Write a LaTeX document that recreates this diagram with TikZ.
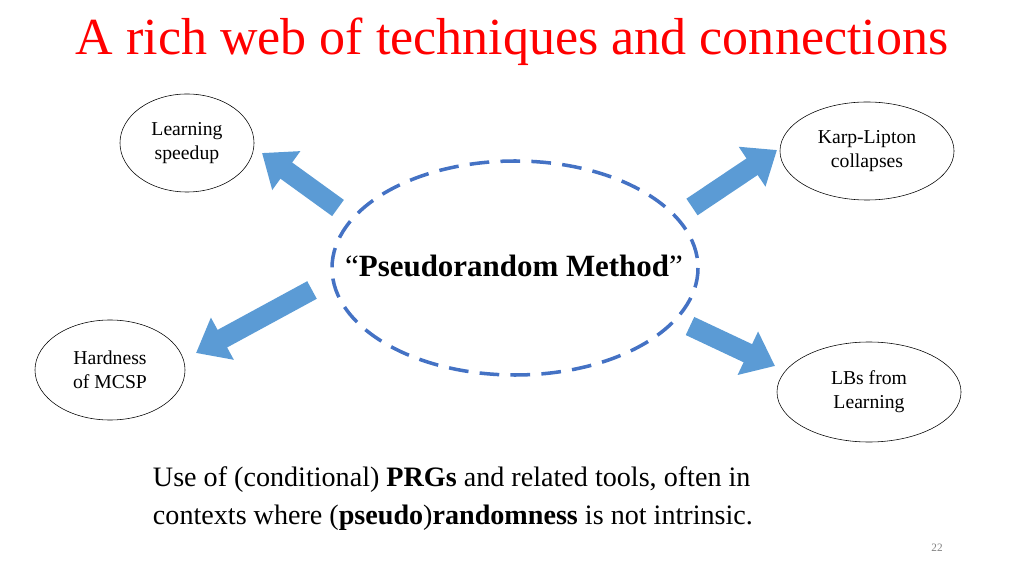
\documentclass[tikz,border=0pt]{standalone}
\usepackage{fontspec}
\setmainfont{Liberation Serif}
\usetikzlibrary{arrows.meta, positioning, shapes.geometric}
\definecolor{myblue}{RGB}{68,114,196}
\definecolor{arrowblue}{RGB}{91,155,213}
\tikzset{
  topic/.style={ellipse, draw=black, thin, align=center, font=\fontsize{14}{17}\selectfont},
  bigarrow/.style={line width=0.5cm, draw=arrowblue, -{Triangle[length=0.75cm,width=1.15cm]}}
}

\begin{document}
\begin{tikzpicture}[x=0.025cm, y=-0.025cm]
\useasboundingbox (0,0) rectangle (1024,576);

% title
\node[text=red, font=\fontsize{37}{42}\selectfont] (title) at (512,42) {A rich web of techniques and connections};

% central method
\draw[myblue, line width=2.5pt, dash pattern=on 14pt off 8pt] (515,268) ellipse [x radius=183, y radius=107];
\node[font=\fontsize{22}{26}\selectfont] (method) at (514,266) {``\textbf{Pseudorandom Method}''};

% surrounding topics
\node[topic, minimum width=3.35cm, minimum height=2.45cm] (learn) at (187,143) {Learning\\speedup};
\node[topic, minimum width=4.35cm, minimum height=2.45cm] (karp) at (867,151) {Karp-Lipton\\collapses};
\node[topic, minimum width=3.75cm, minimum height=2.5cm] (mcsp) at (110,370) {Hardness\\of MCSP};
\node[topic, minimum width=4.6cm, minimum height=2.5cm] (lbs) at (869,392) {LBs from\\Learning};

% arrows
\coordinate (a1s) at (338,208); \coordinate (a1e) at (262,153);
\coordinate (a2s) at (692,207); \coordinate (a2e) at (777,150);
\coordinate (a3s) at (312,290); \coordinate (a3e) at (196,353);
\coordinate (a4s) at (690,326); \coordinate (a4e) at (775,366);
\foreach \s/\e in {a1s/a1e, a2s/a2e, a3s/a3e, a4s/a4e}
  \draw[bigarrow] (\s) -- (\e);

% description
\node[align=left, anchor=north west, font=\fontsize{20}{27}\selectfont] (desc) at (148,462)
  {Use of (conditional) \textbf{PRGs} and related tools, often in\\contexts where (\textbf{pseudo})\textbf{randomness} is not intrinsic.};

\node[text=gray, font=\fontsize{8}{10}\selectfont] (page) at (937,548) {22};
\end{tikzpicture}
\end{document}
